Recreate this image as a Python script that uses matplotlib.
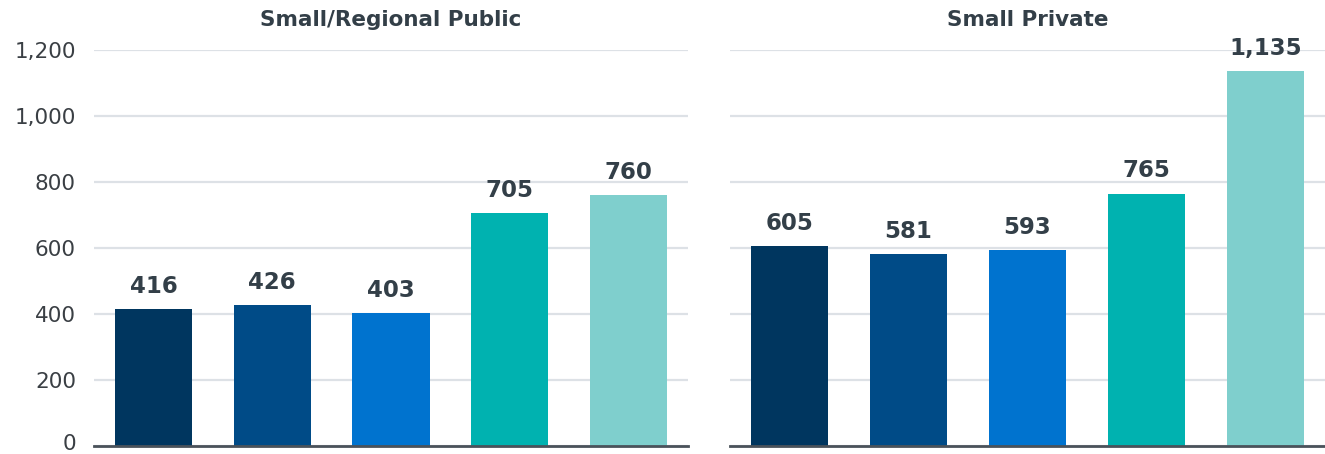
import matplotlib.pyplot as plt
import matplotlib.transforms as mtransforms

panels = ["Small/Regional Public", "Small Private"]
groups = ["g1", "g2", "g3", "g4", "g5"]
public_vals = [416, 426, 403, 705, 760]
private_vals = [605, 581, 593, 765, 1135]
bar_colors = ["#00365F", "#004B87", "#0073CF", "#00B2B0", "#7FCFCD"]
yticks = [0, 200, 400, 600, 800, 1000, 1200]

text_col = "#333F48"

fig = plt.figure(figsize=(13.25, 4.54), dpi=100)
H = 454.0
W = 1325.0
ax_l = fig.add_axes([94 / W, 8 / H, 594 / W, 396 / H])
ax_r = fig.add_axes([730 / W, 8 / H, 595 / W, 396 / H])

for ax, title, vals in [(ax_l, panels[0], public_vals), (ax_r, panels[1], private_vals)]:
    x = range(len(groups))
    bars = ax.bar(x, vals, width=0.65, color=bar_colors, zorder=3)
    for b, v in zip(bars, vals):
        ax.annotate(f"{v:,}", (b.get_x() + b.get_width() / 2, v),
                    xytext=(0, 8), textcoords="offset points",
                    ha="center", va="bottom", fontsize=16.5,
                    fontweight="bold", color=text_col)
    ax.set_xlim(-0.5, 4.5)
    ax.set_ylim(0, 1200)
    ax.set_yticks(yticks)
    ax.grid(axis="y", color="#DDE1E6", linewidth=1.6, zorder=0)
    ax.set_xticks([])
    for s in ["top", "right", "left"]:
        ax.spines[s].set_visible(False)
    ax.spines["bottom"].set_color("#4A525A")
    ax.spines["bottom"].set_linewidth(2)
    ax.spines["bottom"].set_zorder(4)
    ax.tick_params(axis="y", length=0, pad=13, labelsize=15.5, labelcolor="#3A3F44")
    ax.set_title(title, fontsize=15.5, fontweight="bold", color=text_col, pad=17)

ax_l.set_yticklabels([f"{t:,}" for t in yticks])
ax_r.set_yticklabels([])
for lab in ax_l.get_yticklabels():
    lab.set_verticalalignment("center_baseline")
# the zero label sits on the baseline, keep it clear of the figure edge
zero_lab = ax_l.get_yticklabels()[0]
zero_lab.set_verticalalignment("center")
zero_lab.set_transform(zero_lab.get_transform() +
                       mtransforms.ScaledTranslation(0, 2 / 100, fig.dpi_scale_trans))

fig.savefig("out.png", dpi=100)
